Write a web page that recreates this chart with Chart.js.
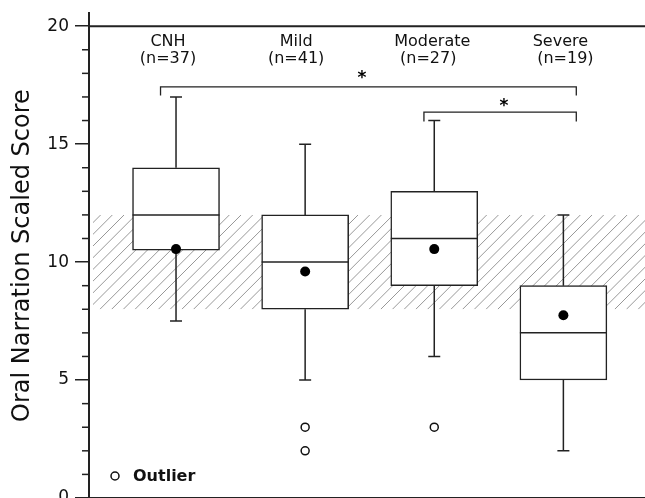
<!DOCTYPE html>
<html>
<head>
<meta charset="utf-8">
<script src="https://cdn.jsdelivr.net/npm/chart.js@4"></script>
<style>
  html, body { margin: 0; padding: 0; background: #fff; }
  #frame { width: 645px; height: 498px; overflow: hidden; }
  #wrap { position: relative; top: -3px; width: 651px; height: 540px; }
</style>
</head>
<body>
<div id="frame"><div id="wrap"><canvas id="chart"></canvas></div></div>
<script>
// group data
const categories = ["CNH", "Mild", "Moderate", "Severe"];
const counts = ["(n=37)", "(n=41)", "(n=27)", "(n=19)"];
const whiskerLow = [7.5, 5, 6, 2];
const q1 = [10.5, 8, 9, 5];
const median = [12, 10, 11, 7];
const q3 = [14, 12, 13, 9];
const whiskerHigh = [17, 15, 16, 12];
const means = [10.55, 9.6, 10.55, 7.75];
const outliers = [[], [3, 2], [3], []];
const normalRange = [8, 12]; // shaded band
const yMajorTicks = [0, 5, 10, 15, 20];

// significance brackets (data units)
const bracketFrom = [0.88, 2.92];
const bracketTo = [4.1, 4.1];
const bracketTop = [17.43, 16.36];
const bracketEnd = [17.06, 15.96];
const starX = [2.44, 3.54];
const starY = [17.96, 16.77];

const INK = "#222";
const FONT = "'DejaVu Sans', sans-serif";

const boxData = categories.map((c, i) => ({ x: i + 1, y: [q1[i], q3[i]] }));
const meanData = means.map((m, i) => ({ x: i + 1, y: m }));
const outlierData = [];
outliers.forEach((list, i) => list.forEach((v) => outlierData.push({ x: i + 1, y: v })));

const boxPlugin = {
  id: "boxExtras",
  beforeDatasetsDraw(chart) {
    const { ctx, chartArea } = chart;
    const x = chart.scales.x;
    const y = chart.scales.y;

    // hatched normal range
    const top = y.getPixelForValue(normalRange[1]);
    const bot = y.getPixelForValue(normalRange[0]);
    const h = bot - top;
    ctx.save();
    ctx.beginPath();
    ctx.rect(chartArea.left + 4, top, chartArea.right - chartArea.left - 4, h);
    ctx.clip();
    ctx.strokeStyle = "#8c8c8c";
    ctx.lineWidth = 0.9;
    for (let k = chartArea.left - h; k < chartArea.right + 10; k += 11.7) {
      ctx.beginPath();
      ctx.moveTo(k, bot);
      ctx.lineTo(k + h, top);
      ctx.stroke();
    }
    ctx.restore();

    // line at 20 and bottom axis
    ctx.save();
    ctx.strokeStyle = INK;
    ctx.lineWidth = 2;
    const y20 = y.getPixelForValue(20);
    ctx.beginPath();
    ctx.moveTo(chartArea.left, y20);
    ctx.lineTo(chartArea.right, y20);
    ctx.moveTo(chartArea.left, chartArea.bottom);
    ctx.lineTo(chartArea.right, chartArea.bottom);
    ctx.stroke();

    // minor ticks
    ctx.lineWidth = 1.5;
    for (let v = 0; v <= 20; v++) {
      if (yMajorTicks.includes(v)) continue;
      const py = y.getPixelForValue(v);
      ctx.beginPath();
      ctx.moveTo(chartArea.left - 7, py);
      ctx.lineTo(chartArea.left, py);
      ctx.stroke();
    }

    // whiskers
    ctx.lineWidth = 1.5;
    categories.forEach((c, i) => {
      const px = x.getPixelForValue(i + 1);
      const lo = y.getPixelForValue(whiskerLow[i]);
      const hi = y.getPixelForValue(whiskerHigh[i]);
      ctx.beginPath();
      ctx.moveTo(px, hi);
      ctx.lineTo(px, y.getPixelForValue(q3[i]));
      ctx.moveTo(px, lo);
      ctx.lineTo(px, y.getPixelForValue(q1[i]));
      ctx.moveTo(px - 6, hi);
      ctx.lineTo(px + 6, hi);
      ctx.moveTo(px - 6, lo);
      ctx.lineTo(px + 6, lo);
      ctx.stroke();
    });

    // brackets and stars
    bracketFrom.forEach((f, i) => {
      const x1 = x.getPixelForValue(f);
      const x2 = x.getPixelForValue(bracketTo[i]);
      const yt = y.getPixelForValue(bracketTop[i]);
      const ye = y.getPixelForValue(bracketEnd[i]);
      ctx.lineWidth = 1.3;
      ctx.beginPath();
      ctx.moveTo(x1, ye);
      ctx.lineTo(x1, yt);
      ctx.lineTo(x2, yt);
      ctx.lineTo(x2, ye);
      ctx.stroke();
      ctx.fillStyle = "#000";
      ctx.font = "bold 17px " + FONT;
      ctx.textAlign = "center";
      ctx.textBaseline = "middle";
      ctx.fillText("*", x.getPixelForValue(starX[i]), y.getPixelForValue(starY[i]) + 4);
    });

    // group labels
    const shift = [[-8, -8], [-9, -9], [-2, -6], [-3, 2]];
    ctx.fillStyle = "#111";
    ctx.font = "16px " + FONT;
    ctx.textAlign = "center";
    ctx.textBaseline = "alphabetic";
    categories.forEach((c, i) => {
      const px = x.getPixelForValue(i + 1);
      ctx.fillText(c, px + shift[i][0], y20 + 20);
      ctx.fillText(counts[i], px + shift[i][1], y20 + 37);
    });

    // outlier key
    const ky = chartArea.bottom - 22;
    ctx.beginPath();
    ctx.arc(chartArea.left + 26, ky, 4, 0, Math.PI * 2);
    ctx.lineWidth = 1.5;
    ctx.strokeStyle = "#111";
    ctx.stroke();
    ctx.font = "bold 16px " + FONT;
    ctx.textAlign = "left";
    ctx.textBaseline = "middle";
    ctx.fillText("Outlier", chartArea.left + 44, ky + 1);
    ctx.restore();
  },
  afterDatasetDraw(chart, args) {
    if (args.index !== 0) return;
    const { ctx } = chart;
    const x = chart.scales.x;
    const y = chart.scales.y;
    ctx.save();
    ctx.strokeStyle = INK;
    ctx.lineWidth = 1.5;
    categories.forEach((c, i) => {
      const px = x.getPixelForValue(i + 1);
      const py = y.getPixelForValue(median[i]);
      ctx.beginPath();
      ctx.moveTo(px - 43.5, py);
      ctx.lineTo(px + 43.5, py);
      ctx.stroke();
    });
    ctx.restore();
  }
};

new Chart(document.getElementById("chart"), {
  type: "bar",
  data: {
    datasets: [
      {
        type: "bar",
        data: boxData,
        backgroundColor: "#fff",
        borderColor: INK,
        borderWidth: 1.5,
        borderSkipped: false,
        barThickness: 87,
        order: 2
      },
      {
        type: "scatter",
        data: meanData,
        pointRadius: 5,
        pointBackgroundColor: "#000",
        pointBorderColor: "#000",
        pointBorderWidth: 0,
        order: 1
      },
      {
        type: "scatter",
        data: outlierData,
        pointRadius: 4,
        pointBackgroundColor: "#fff",
        pointBorderColor: "#111",
        pointBorderWidth: 1.5,
        order: 1
      }
    ]
  },
  options: {
    responsive: true,
    maintainAspectRatio: false,
    animation: false,
    layout: { padding: { top: 13, bottom: 39, left: 0, right: 0 } },
    plugins: {
      legend: { display: false },
      tooltip: { enabled: false }
    },
    scales: {
      x: {
        type: "linear",
        min: 0.326,
        max: 4.636,
        offset: false,
        grid: { offset: false },
        display: false
      },
      y: {
        min: 0,
        max: 20.55,
        afterFit: (scale) => { scale.width = 89; },
        border: { display: true, color: INK, width: 2 },
        grid: {
          drawOnChartArea: false,
          drawTicks: true,
          tickLength: 14,
          lineWidth: 1.5,
          color: (c) => (yMajorTicks.includes(c.tick.value) ? INK : "rgba(0,0,0,0)")
        },
        ticks: {
          stepSize: 1,
          includeBounds: false,
          autoSkip: false,
          padding: 6,
          color: "#111",
          font: { family: FONT, size: 17 },
          callback: (v) => (yMajorTicks.includes(v) ? v : "")
        },
        title: {
          display: true,
          text: "Oral Narration Scaled Score",
          color: "#111",
          font: { family: FONT, size: 24 },
          padding: { top: 8, bottom: 0 }
        }
      }
    }
  },
  plugins: [boxPlugin]
});
</script>
</body>
</html>
